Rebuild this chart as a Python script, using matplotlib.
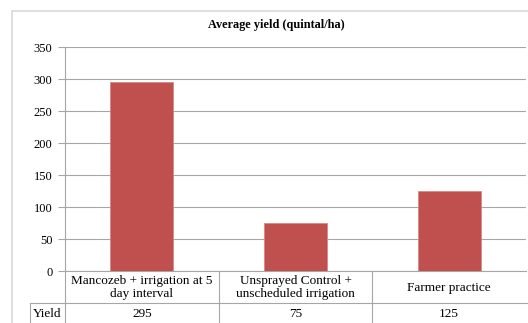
import matplotlib.pyplot as plt
from matplotlib.lines import Line2D
from matplotlib.patches import Rectangle

plt.rcParams['font.family'] = ['Liberation Serif', 'DejaVu Serif']

# данные
categories = ['Mancozeb + irrigation at 5\nday interval',
              'Unsprayed Control +\nunscheduled irrigation',
              'Farmer practice']
yields = [295, 75, 125]
yticks = [0, 50, 100, 150, 200, 250, 300, 350]
row_label = 'Yield'
title = 'Average yield (quintal/ha)'

W, H = 528, 323
fig = plt.figure(figsize=(W / 100, H / 100), dpi=100)

# рамка диаграммы
fig.add_artist(Rectangle((12 / W, -0.1), 1.2, 1 - 11 / H + 0.1, transform=fig.transFigure,
                         fill=False, edgecolor='#d9d9d9', linewidth=1.2))

left, right, top, bottom = 65, 526, 47, 271
ax = fig.add_axes([left / W, 1 - bottom / H, (right - left) / W, (bottom - top) / H])

x = list(range(len(categories)))
ax.bar(x, yields, width=0.41, color='#c0504d', edgecolor='#d68886', linewidth=0.6, zorder=3)
ax.set_xlim(-0.5, len(categories) - 0.5)
ax.set_ylim(0, 350)
ax.set_yticks(yticks)
ax.yaxis.grid(True, color='#a6a6a6', linewidth=0.8, zorder=0)
ax.set_xticks([])
for s in ['top', 'right']:
    ax.spines[s].set_visible(False)
ax.spines['left'].set_color('#a6a6a6')
ax.spines['bottom'].set_color('#a6a6a6')
ax.tick_params(axis='y', direction='out', length=5, color='#a6a6a6', labelsize=9, pad=4)
fig.text(276 / W, 1 - 25 / H, title, ha='center', va='center', fontsize=8.8, fontweight='bold')

# таблица данных под осью
px = 1 / (bottom - top)
row1 = -32 * px
row2 = -60 * px
tr = ax.get_xaxis_transform()
gc = '#a6a6a6'
for xi in [-0.5, 0.5, 1.5]:
    ax.add_line(Line2D([xi, xi], [0, row2], transform=tr, color=gc, lw=0.8, clip_on=False))
x_yield_left = -0.5 - 35 / ((right - left) / 3)
ax.add_line(Line2D([x_yield_left, x_yield_left], [row1, row2], transform=tr, color=gc, lw=0.8, clip_on=False))
ax.add_line(Line2D([x_yield_left, 2.6], [row1, row1], transform=tr, color=gc, lw=0.8, clip_on=False))

for xi, cat, v in zip(x, categories, yields):
    ax.text(xi, row1 / 2 - 0.5 * px, cat, transform=tr, ha='center', va='center', fontsize=9.5,
            linespacing=1.2)
    ax.text(xi, row1 - 11 * px, str(v), transform=tr, ha='center', va='center', fontsize=9.5)
ax.text(x_yield_left + 0.02, row1 - 11 * px, row_label, transform=tr, ha='left', va='center', fontsize=9.5)

fig.savefig('out.png', dpi=100)
